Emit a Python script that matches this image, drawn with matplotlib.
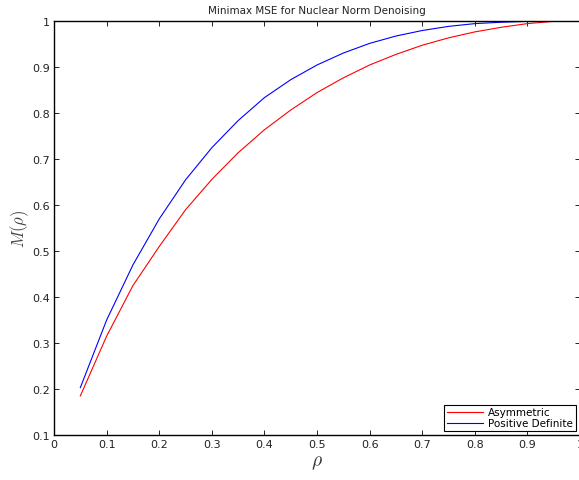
import numpy as np
import matplotlib
matplotlib.use("Agg")
import matplotlib.pyplot as plt

# values
rho = [0.05, 0.10, 0.15, 0.20, 0.25, 0.30, 0.35, 0.40, 0.45, 0.50,
       0.55, 0.60, 0.65, 0.70, 0.75, 0.80, 0.85, 0.90, 0.95]
asym = [0.185, 0.315, 0.425, 0.510, 0.590, 0.656, 0.714, 0.764, 0.807, 0.845,
        0.877, 0.905, 0.928, 0.948, 0.964, 0.977, 0.987, 0.995, 1.000]
posdef = [0.203, 0.350, 0.470, 0.570, 0.655, 0.725, 0.784, 0.834, 0.873, 0.905,
          0.931, 0.952, 0.968, 0.980, 0.989, 0.995, 0.998, 1.000, 1.000]

xticks = np.arange(0, 1.01, 0.1)
yticks = np.arange(0.1, 1.01, 0.1)

plt.rcParams['font.family'] = 'DejaVu Sans'
plt.rcParams['mathtext.fontset'] = 'cm'

fig = plt.figure(figsize=(5.79, 4.81), dpi=100)
# right edge sits just past the canvas, as in the reference
ax = fig.add_axes([0.0933, 0.0936, 0.9085, 0.860])

ax.plot(rho, asym, color='red', lw=0.8, label='Asymmetric')
ax.plot(rho, posdef, color='blue', lw=0.8, label='Positive Definite')

ax.set_xlim(0, 1)
ax.set_ylim(0.1, 1)
ax.set_xticks(xticks)
ax.set_yticks(yticks)
ax.set_xticklabels(['0', '0.1', '0.2', '0.3', '0.4', '0.5', '0.6', '0.7', '0.8', '0.9', '1'])
ax.set_yticklabels(['0.1', '0.2', '0.3', '0.4', '0.5', '0.6', '0.7', '0.8', '0.9', '1'])
ax.tick_params(direction='in', top=True, right=True, labelsize=8, length=3.5, width=0.6,
               pad=3, labelcolor='#222222')
for s in ax.spines.values():
    s.set_linewidth(1.0)

ax.set_title('Minimax MSE for Nuclear Norm Denoising', fontsize=7.5, pad=6, color='#222222')
ax.set_xlabel(r'$\rho$', fontsize=14, labelpad=2, color='#333333')
ax.set_ylabel(r'$M(\rho)$', fontsize=12, labelpad=1, color='#444444')

leg = ax.legend(loc='lower right', fontsize=7.5, fancybox=False, edgecolor='black',
                framealpha=1, borderaxespad=0.4, handlelength=3.5, borderpad=0.25,
                labelspacing=0.1, handletextpad=0.5)
leg.get_frame().set_linewidth(0.8)

fig.savefig('out.png', dpi=100)
